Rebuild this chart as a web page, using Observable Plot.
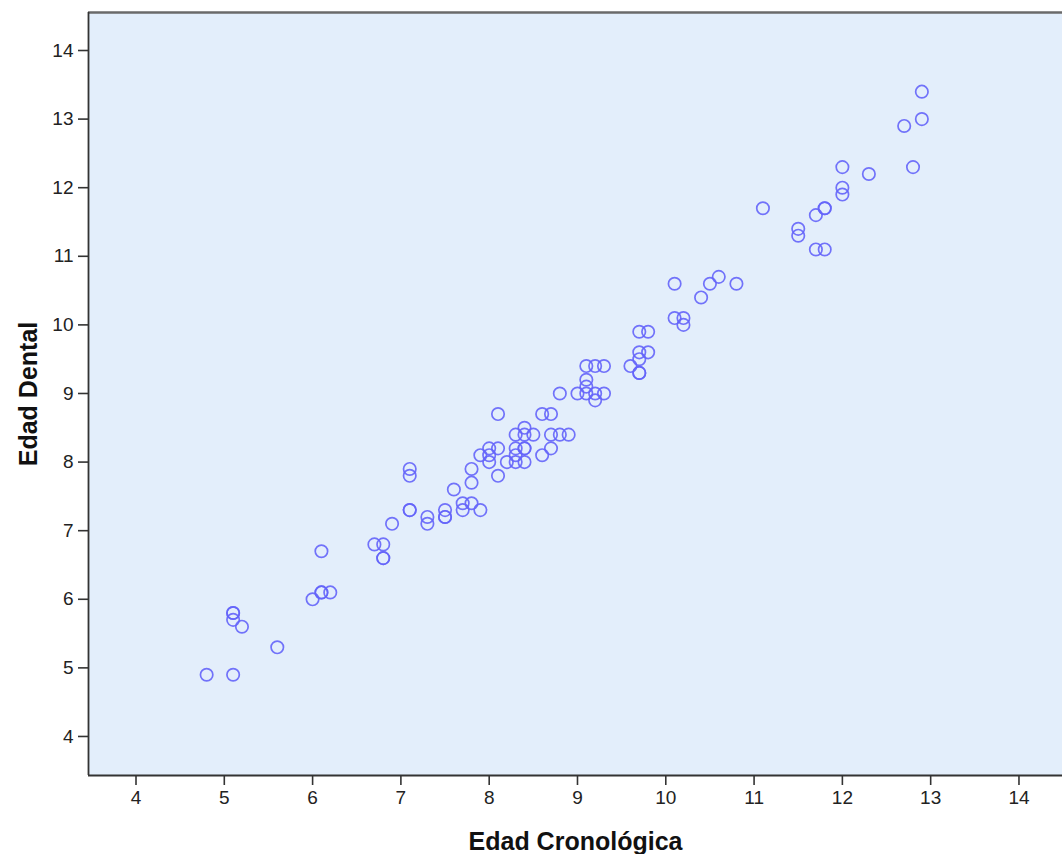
<!DOCTYPE html>
<html><head><meta charset="utf-8">
<script src="https://cdn.jsdelivr.net/npm/d3@7"></script>
<script src="https://cdn.jsdelivr.net/npm/@observablehq/plot@0.6"></script>
<style>body{margin:0;background:#fff}</style>
</head><body><div id="chart"></div>
<script>
const edadCronologica = [4.8,5.1,5.1,5.1,5.1,5.2,5.6,6.0,6.1,6.1,6.2,6.1,6.7,6.8,6.8,6.8,6.9,7.1,7.1,7.1,7.1,7.3,7.3,7.5,7.5,7.5,7.6,7.7,7.8,7.7,7.9,7.8,7.8,7.9,8.0,8.0,8.1,8.0,8.1,8.1,8.2,8.3,8.4,8.3,8.3,8.4,8.4,8.3,8.4,8.5,8.4,8.6,8.7,8.6,8.7,8.7,8.8,8.9,8.8,9.0,9.1,9.2,9.3,9.2,9.1,9.1,9.1,9.2,9.3,9.6,9.7,9.7,9.7,9.7,9.8,9.7,9.8,10.1,10.2,10.2,10.1,10.4,10.5,10.6,10.8,11.1,11.5,11.5,11.7,11.8,11.8,11.7,11.8,12.0,12.0,12.0,12.3,12.8,12.7,12.9,12.9];
const edadDental = [4.9,4.9,5.8,5.8,5.7,5.6,5.3,6.0,6.1,6.1,6.1,6.7,6.8,6.8,6.6,6.6,7.1,7.9,7.8,7.3,7.3,7.2,7.1,7.3,7.2,7.2,7.6,7.4,7.4,7.3,7.3,7.9,7.7,8.1,8.1,8.2,8.2,8.0,7.8,8.7,8.0,8.0,8.0,8.1,8.2,8.2,8.2,8.4,8.4,8.4,8.5,8.1,8.2,8.7,8.7,8.4,8.4,8.4,9.0,9.0,9.0,9.0,9.0,8.9,9.1,9.2,9.4,9.4,9.4,9.4,9.3,9.3,9.5,9.6,9.6,9.9,9.9,10.1,10.1,10.0,10.6,10.4,10.6,10.7,10.6,11.7,11.4,11.3,11.6,11.7,11.7,11.1,11.1,12.3,12.0,11.9,12.2,12.3,12.9,13.0,13.4];
const xTicks = [4,5,6,7,8,9,10,11,12,13,14];
const yTicks = [4,5,6,7,8,9,10,11,12,13,14];
const xTitle = "Edad Cronológica";
const yTitle = "Edad Dental";

const data = edadCronologica.map((x, i) => ({x, y: edadDental[i]}));
const xDomain = [3.462, 14.493];
const yDomain = [3.431, 14.554];

const chart = Plot.plot({
  width: 1062, height: 854,
  marginLeft: 88, marginRight: 0, marginTop: 12, marginBottom: 79,
  style: {fontFamily: "'Liberation Sans', Arial, sans-serif", fontSize: "19px", color: "#222", background: "#fff"},
  x: {domain: xDomain, label: null},
  y: {domain: yDomain, label: null},
  marks: [
    Plot.frame({fill: "#E3EEFB", stroke: null}),
    Plot.ruleY([yDomain[1]], {stroke: "#6a6a6a", strokeWidth: 2.5}),
    Plot.axisX(xTicks, {tickSize: 10, tickPadding: 5, tickFormat: d => String(d), stroke: "#333", strokeWidth: 1.6, fill: "#222", fontSize: 19, label: null}),
    Plot.axisY(yTicks, {tickSize: 10, tickPadding: 5, tickFormat: d => String(d), stroke: "#333", strokeWidth: 1.6, fill: "#222", fontSize: 19, label: null}),
    Plot.ruleX([xDomain[0]], {stroke: "#333", strokeWidth: 1.8}),
    Plot.ruleY([yDomain[0]], {stroke: "#333", strokeWidth: 1.8}),
    Plot.dot(data, {x: "x", y: "y", r: 6.2, stroke: "#6464FA", strokeWidth: 1.7, fill: "none", strokeOpacity: 0.9}),
    Plot.text([xTitle], {frameAnchor: "bottom", dy: 74, fontSize: 25, fontWeight: "bold", fill: "#111"}),
    Plot.text([yTitle], {frameAnchor: "left", dx: -60, rotate: -90, textAnchor: "middle", fontSize: 25, fontWeight: "bold", fill: "#111"})
  ]
});
document.getElementById("chart").append(chart);
</script>
</body></html>
